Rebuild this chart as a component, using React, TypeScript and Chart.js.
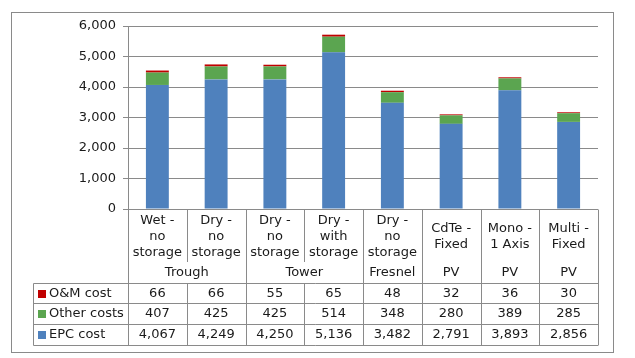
import React, { useEffect, useRef } from "react";
import { Chart, registerables } from "chart.js";

Chart.register(...registerables);

const categoryLines: string[][] = [
  ["Wet -", "no", "storage"],
  ["Dry -", "no", "storage"],
  ["Dry -", "no", "storage"],
  ["Dry -", "with", "storage"],
  ["Dry -", "no", "storage"],
  ["CdTe -", "Fixed"],
  ["Mono -", "1 Axis"],
  ["Multi -", "Fixed"],
];
const groupLabels = ["Trough", "Tower", "Fresnel", "PV", "PV", "PV"];
const groupSpans = [2, 2, 1, 1, 1, 1];

const epcCost = [4067, 4249, 4250, 5136, 3482, 2791, 3893, 2856];
const otherCosts = [407, 425, 425, 514, 348, 280, 389, 285];
const omCost = [66, 66, 55, 65, 48, 32, 36, 30];

const seriesNames = ["O&M cost", "Other costs", "EPC cost"];
const seriesColors = ["#C00000", "#5BA550", "#4F81BD"];

const yMin = 0;
const yMax = 6000;
const yStep = 1000;

const FONT_FAMILY = '"DejaVu Sans", Verdana, sans-serif';
const FONT = `13px ${FONT_FAMILY}`;
const TEXT = "#1a1a1a";
const LINE = "#8a8a8a";

const fmt = (v: number) => v.toLocaleString("en-US");

const tablePlugin = {
  id: "tablePlugin",
  beforeDraw(chart: any) {
    const ctx = chart.ctx;
    ctx.save();
    ctx.fillStyle = "#ffffff";
    ctx.fillRect(0, 0, chart.width, chart.height);
    ctx.strokeStyle = LINE;
    ctx.lineWidth = 1;
    ctx.strokeRect(11.5, 12.5, 602, 340);
    ctx.restore();
  },
  afterDraw(chart: any) {
    const ctx = chart.ctx;
    const a = chart.chartArea;
    const n = categoryLines.length;
    const w = (a.right - a.left) / n;
    const px = (v: number) => Math.round(v) + 0.5;
    const top = a.bottom;
    const labelBottom = top + 53;
    const rowLines = [top + 74, top + 94, top + 115, top + 136];
    const legendLeft = 33;

    ctx.save();
    ctx.strokeStyle = LINE;
    ctx.lineWidth = 1;
    ctx.beginPath();
    // horizontal lines
    ctx.moveTo(a.left, px(top));
    ctx.lineTo(a.right, px(top));
    rowLines.forEach((y) => {
      ctx.moveTo(px(legendLeft), px(y));
      ctx.lineTo(a.right, px(y));
    });
    // legend column left border
    ctx.moveTo(px(legendLeft), px(rowLines[0]));
    ctx.lineTo(px(legendLeft), px(rowLines[3]));
    // column boundaries
    const groupEdges = new Set<number>();
    let acc = 0;
    groupEdges.add(0);
    groupSpans.forEach((s) => {
      acc += s;
      groupEdges.add(acc);
    });
    for (let i = 0; i <= n; i++) {
      const x = px(a.left + i * w);
      ctx.moveTo(x, px(top));
      ctx.lineTo(x, groupEdges.has(i) ? px(rowLines[3]) : labelBottom);
      if (!groupEdges.has(i)) {
        ctx.moveTo(x, px(rowLines[0]));
        ctx.lineTo(x, px(rowLines[3]));
      }
    }
    ctx.stroke();

    ctx.font = FONT;
    ctx.fillStyle = TEXT;
    ctx.textAlign = "center";
    ctx.textBaseline = "middle";
    // category labels
    categoryLines.forEach((lines, i) => {
      const cx = a.left + (i + 0.5) * w;
      const cy = top + 27.5;
      lines.forEach((t, j) => {
        ctx.fillText(t, cx, cy + (j - (lines.length - 1) / 2) * 16);
      });
    });
    // group labels
    let start = 0;
    groupLabels.forEach((g, k) => {
      const span = groupSpans[k];
      const cx = a.left + (start + span / 2) * w;
      ctx.fillText(g, cx, top + 64);
      start += span;
    });
    // data rows
    const rows = [omCost, otherCosts, epcCost];
    rows.forEach((vals, r) => {
      const cy = (rowLines[r] + rowLines[r + 1]) / 2 + 0.5;
      vals.forEach((v, i) => {
        ctx.fillText(fmt(v), a.left + (i + 0.5) * w, cy);
      });
      ctx.fillStyle = seriesColors[r];
      ctx.fillRect(38, Math.round(cy) - 4, 8, 8);
      ctx.fillStyle = TEXT;
      ctx.textAlign = "left";
      ctx.fillText(seriesNames[r], 49, cy);
      ctx.textAlign = "center";
    });
    ctx.restore();
  },
};

export default function App() {
  const ref = useRef<HTMLCanvasElement | null>(null);
  useEffect(() => {
    if (!ref.current) return;
    const labels = categoryLines.map((l) => l.join(" "));
    const chart = new Chart(ref.current, {
      type: "bar",
      data: {
        labels,
        datasets: [
          { label: seriesNames[2], data: epcCost, backgroundColor: seriesColors[2] },
          { label: seriesNames[1], data: otherCosts, backgroundColor: seriesColors[1] },
          { label: seriesNames[0], data: omCost, backgroundColor: seriesColors[0] },
        ],
      },
      options: {
        responsive: false,
        animation: false,
        devicePixelRatio: 1,
        layout: { padding: { left: 0, top: 26, right: 37, bottom: 149 } },
        datasets: { bar: { barPercentage: 0.39, categoryPercentage: 1 } },
        plugins: { legend: { display: false }, tooltip: { enabled: false } },
        scales: {
          x: { stacked: true, display: false },
          y: {
            stacked: true,
            min: yMin,
            max: yMax,
            afterFit: (scale: any) => {
              scale.width = 128;
            },
            ticks: {
              stepSize: yStep,
              color: TEXT,
              font: { family: FONT_FAMILY, size: 13 },
              padding: 7,
              callback: (v: any) => fmt(Number(v)),
            },
            grid: { color: LINE, tickLength: 5, drawTicks: true },
            border: { display: true, color: LINE },
          },
        },
      },
      plugins: [tablePlugin],
    } as any);
    return () => chart.destroy();
  }, []);
  return (
    <div style={{ position: "absolute", left: 0, top: 0, width: 635, height: 358 }}>
      <canvas ref={ref} width={635} height={358} />
    </div>
  );
}
